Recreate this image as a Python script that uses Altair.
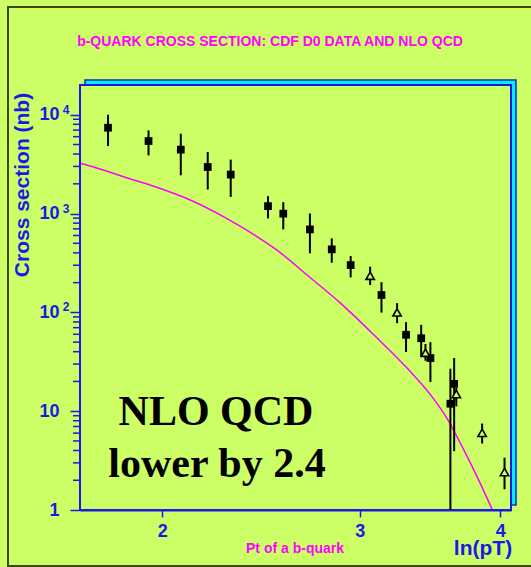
import altair as alt
import pandas as pd

# ---- data ----
sq_x = [1.790, 1.945, 2.078, 2.196, 2.302, 2.485, 2.564, 2.708, 2.832, 2.944, 3.136, 3.298, 3.402, 3.467, 3.640, 3.612]
sq_y = [7390, 5420, 4435, 2960, 2480, 1189, 998, 691, 434, 301, 150, 59.3, 54.7, 34.5, 18.9, 11.9]
sq_lo = [4820, 3880, 2440, 1750, 1474, 893, 691, 396, 318, 226, 99.5, 39.7, 35.8, 19.8, 3.94, 1.0]
sq_hi = [10000, 6950, 6430, 4195, 3515, 1499, 1303, 1002, 561, 372, 202, 79.6, 74.8, 50.0, 34.5, 26.9]

tri_x = [3.064, 3.238, 3.432, 3.656, 3.855, 4.036]
tri_y = [235, 100, 39.0, 14.9, 6.04, 2.42]
tri_lo = [189, 77.8, 32.4, 11.2, 4.71, 1.62]
tri_hi = [290, 124, 47.9, 17.3, 7.5, 3.38]

nlo_x = [1.693, 1.729, 1.850, 1.981, 2.121, 2.270, 2.431, 2.524, 2.692, 2.883, 3.087, 3.305, 3.467, 3.588, 3.711, 3.840, 3.934]
nlo_y = [3205, 3010, 2346, 1834, 1365, 927, 582, 437, 239, 124, 59.3, 27.3, 14.7, 8.42, 4.10, 1.86, 1.02]

x_ticks = [2, 3, 4]
y_major = [1, 10, 100, 1000, 10000]
y_minor = [m * d for d in [1, 10, 100, 1000] for m in range(2, 10)]
sup_vals = [100, 1000, 10000]
sup_text = ["2", "3", "4"]

title_text = "b-QUARK CROSS SECTION: CDF D0 DATA AND NLO QCD"
ytitle_text = "Cross section (nb)"
xsub_text = "Pt of a b-quark"
xtitle_text = "ln(pT)"
note1 = "NLO QCD"
note2 = "lower by 2.4"

# ---- styling ----
W, H = 431, 425
BG = "#ccff66"
BLUE = "#1a1ae6"
MAG = "#ff00ff"
SANS = "Liberation Sans"
SERIF = "Liberation Serif"

xscale = alt.Scale(type="log", domain=[1.69, 4.09], nice=False)
yscale = alt.Scale(type="log", domain=[1, 20000], nice=False)

xaxis = alt.Axis(values=x_ticks, format="d", tickSize=7, labelPadding=5, title=None,
                 labelFlush=False, grid=False)
yaxis = alt.Axis(values=y_major, labelExpr="datum.value == 1 ? '1' : '10'", tickSize=10,
                 labelPadding=11, title=None, grid=False, labelFlush=False)


def X(field):
    return alt.X(field, type="quantitative", scale=xscale, axis=xaxis)


def Y(field):
    return alt.Y(field, type="quantitative", scale=yscale, axis=yaxis)


one = alt.Data(values=[{"a": 1}])

sq = pd.DataFrame({"x": sq_x, "y": sq_y, "lo": sq_lo, "hi": sq_hi})
tri = pd.DataFrame({"x": tri_x, "y": tri_y, "lo": tri_lo, "hi": tri_hi})
nlo = pd.DataFrame({"x": nlo_x, "y": nlo_y})
minor = pd.DataFrame({"v": y_minor})
sup = pd.DataFrame({"v": sup_vals, "t": sup_text})

outer = alt.Chart(one).mark_rect(fill="transparent", stroke="#3d4a12", strokeWidth=2).encode(
    x=alt.value(-72), x2=alt.value(460), y=alt.value(-78), y2=alt.value(481))

bevel = alt.Chart(one).mark_rect(fill="#00f0ff", stroke="#2020c8", strokeWidth=1.5).encode(
    x=alt.value(5), x2=alt.value(W + 5), y=alt.value(-5), y2=alt.value(H - 5))

plotbg = alt.Chart(one).mark_rect(fill=BG, stroke=BLUE, strokeWidth=2).encode(
    x=alt.value(0), x2=alt.value(W), y=alt.value(0), y2=alt.value(H))

minor_ticks = alt.Chart(minor).mark_rule(color=BLUE, strokeWidth=1.5).encode(
    y=Y("v"), x=alt.value(-7), x2=alt.value(0))

curve = alt.Chart(nlo).mark_line(color=MAG, strokeWidth=1.5, clip=True, interpolate="monotone").encode(
    x=X("x"), y=Y("y"))

sq_err = alt.Chart(sq).mark_rule(color="black", strokeWidth=2, clip=True).encode(
    x=X("x"), y=Y("lo"), y2="hi")
tri_err = alt.Chart(tri).mark_rule(color="black", strokeWidth=2, clip=True).encode(
    x=X("x"), y=Y("lo"), y2="hi")

sq_pts = alt.Chart(sq).mark_point(shape="square", filled=True, color="black", size=60, opacity=1).encode(
    x=X("x"), y=Y("y"))
tri_pts = alt.Chart(tri).mark_point(shape="triangle-up", filled=False, color="black", fill=BG,
                                    fillOpacity=1, strokeWidth=1.6, size=70, opacity=1).encode(
    x=X("x"), y=Y("y"))

sups = alt.Chart(sup).mark_text(font=SANS, fontWeight="bold", fontSize=12, color=BLUE,
                                align="center", baseline="middle", dy=-5).encode(
    y=Y("v"), x=alt.value(-14), text="t")


def label(txt, x, y, size, color, font=SANS, angle=0, baseline="alphabetic"):
    return alt.Chart(one).mark_text(text=txt, font=font, fontWeight="bold", fontSize=size,
                                    color=color, align="center", baseline=baseline,
                                    angle=angle).encode(x=alt.value(x), y=alt.value(y))


t_title = label(title_text, 190, -39, 14, MAG)
t_ytitle = label(ytitle_text, -57, 100, 21, BLUE, angle=270, baseline="middle")
t_xsub = label(xsub_text, 215, 464, 14, MAG, baseline="middle")
t_xtitle = label(xtitle_text, 403, 464, 21, BLUE, baseline="middle")
t_n1 = label(note1, 136, 340, 42, "black", font=SERIF)
t_n2 = label(note2, 137, 392, 42, "black", font=SERIF)

chart = alt.layer(
    outer, bevel, plotbg, minor_ticks, curve, sq_err, tri_err, sq_pts, tri_pts, sups,
    t_title, t_ytitle, t_xsub, t_xtitle, t_n1, t_n2
).properties(
    width=W, height=H, background=BG,
    autosize=alt.AutoSizeParams(type="none"),
    padding={"left": 80, "top": 85, "right": 20, "bottom": 57},
).configure_view(strokeWidth=0).configure_axis(
    domainColor=BLUE, domainWidth=2, tickColor=BLUE, tickWidth=1.5,
    labelColor=BLUE, labelFont=SANS, labelFontWeight="bold", labelFontSize=18,
)

chart.save("out.html", embed_options={"renderer": "svg", "actions": False})
